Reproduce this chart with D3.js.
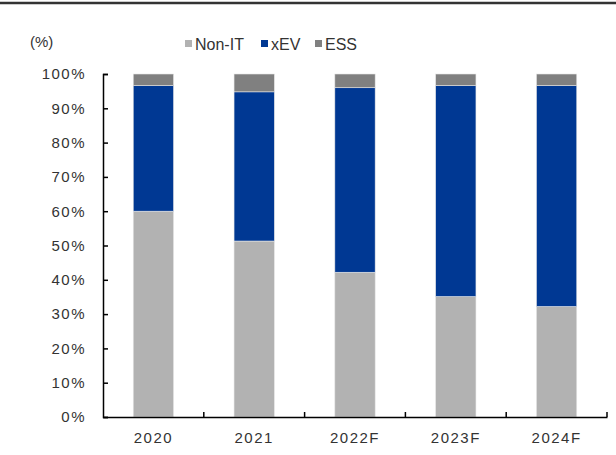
<!DOCTYPE html>
<html>
<head>
<meta charset="utf-8">
<script src="https://cdn.jsdelivr.net/npm/d3@7"></script>
<style>
  body { margin: 0; background: #fff; }
  text { font-family: "Liberation Sans", Arial, sans-serif; fill: #333; }
</style>
</head>
<body>
<script>
const years = ["2020", "2021", "2022F", "2023F", "2024F"];
const seriesNames = ["Non-IT", "xEV", "ESS"];
const nonIT = [60.0, 51.3, 42.2, 35.1, 32.2];
const xEV = [36.6, 43.5, 53.8, 61.5, 64.4];
const ess = [3.4, 5.2, 4.0, 3.4, 3.4];
const yTicks = [0, 10, 20, 30, 40, 50, 60, 70, 80, 90, 100];
const colors = ["#b2b2b2", "#003893", "#808080"];

const W = 616, H = 455;
const margin = { top: 74, right: 9, bottom: 38, left: 103 };
const width = W - margin.left - margin.right;
const height = H - margin.top - margin.bottom;

const svg = d3.select("body").append("svg")
  .attr("width", W)
  .attr("height", H);

// top rule
svg.append("line")
  .attr("x1", 0).attr("x2", W)
  .attr("y1", 3).attr("y2", 3)
  .attr("stroke", "#333").attr("stroke-width", 2.5);

const g = svg.append("g")
  .attr("transform", "translate(" + margin.left + "," + margin.top + ")");

const table = years.map((y, i) => ({ year: y, "Non-IT": nonIT[i], "xEV": xEV[i], "ESS": ess[i] }));
const stacked = d3.stack().keys(seriesNames)(table);

const x = d3.scaleBand()
  .domain(years)
  .range([0, width])
  .paddingInner(0.6)
  .paddingOuter(0.3);

const y = d3.scaleLinear()
  .domain([0, 100])
  .range([height, 0]);

// bars
g.selectAll("g.series")
  .data(stacked)
  .enter().append("g")
  .attr("class", "series")
  .attr("fill", (d, i) => colors[i])
  .selectAll("rect")
  .data(d => d)
  .enter().append("rect")
  .attr("x", d => x(d.data.year))
  .attr("y", d => y(d[1]))
  .attr("width", x.bandwidth())
  .attr("height", d => y(d[0]) - y(d[1]))
  .attr("stroke", "#e6e6e6")
  .attr("stroke-width", 0.6);

// y axis
const yAxis = g.append("g")
  .call(d3.axisLeft(y).tickValues(yTicks).tickSize(-5).tickPadding(17).tickFormat(d => d + "%"));
yAxis.select(".domain").attr("stroke", "#000").attr("stroke-width", 1.5);
yAxis.selectAll(".tick line").attr("stroke", "#000").attr("stroke-width", 1.5);
yAxis.selectAll("text").style("font-size", "15px").attr("fill", "#3a3a3a").style("letter-spacing", "1.5px");

// x axis with boundary ticks
const xAxis = g.append("g")
  .attr("transform", "translate(0," + height + ")")
  .call(d3.axisBottom(x).tickSize(0).tickPadding(15));
xAxis.select(".domain").attr("stroke", "#000").attr("stroke-width", 1.5);
xAxis.selectAll("text").style("font-size", "15px").attr("fill", "#3a3a3a").style("letter-spacing", "1.5px");

const step = x.step();
const bounds = years.map((d, i) => x(d) + x.bandwidth() / 2 + step / 2);
xAxis.selectAll("line.bound")
  .data(bounds)
  .enter().append("line")
  .attr("class", "bound")
  .attr("x1", d => d).attr("x2", d => d)
  .attr("y1", 0).attr("y2", -5)
  .attr("stroke", "#000").attr("stroke-width", 1.5);

// unit label
svg.append("text")
  .attr("x", 30).attr("y", 47)
  .style("font-size", "15px")
  .attr("fill", "#3a3a3a")
  .text("(%)");

// legend
const legendX = [185, 261, 315];
const legend = svg.append("g");
seriesNames.forEach((name, i) => {
  legend.append("rect")
    .attr("x", legendX[i]).attr("y", 40)
    .attr("width", 7).attr("height", 7)
    .attr("fill", colors[i]);
  legend.append("text")
    .attr("x", legendX[i] + 10).attr("y", 50)
    .style("font-size", "16px")
    .attr("fill", "#3a3a3a")
    .text(name);
});
</script>
</body>
</html>
